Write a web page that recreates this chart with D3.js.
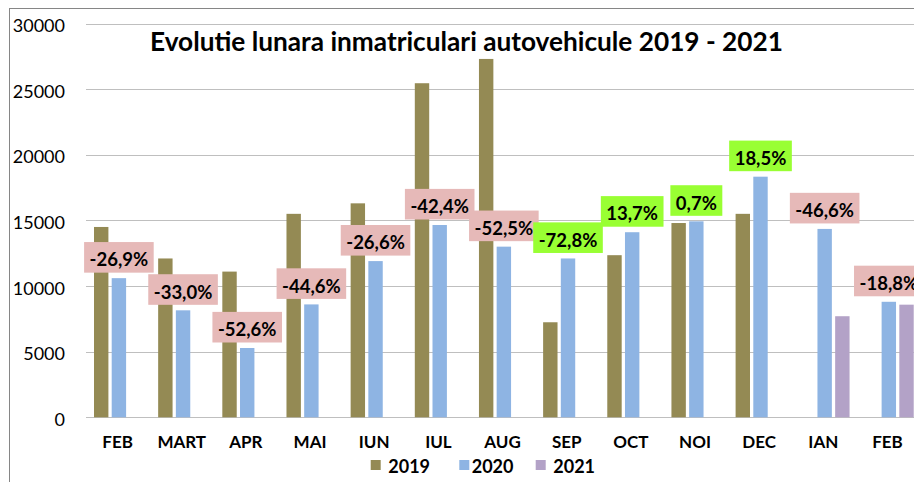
<!DOCTYPE html>
<html>
<head>
<meta charset="utf-8">
<script src="https://cdn.jsdelivr.net/npm/d3@7/dist/d3.min.js"></script>
<style>
  html, body { margin: 0; padding: 0; background: #fff; }
  svg { display: block; }
  text { font-family: Lato, "Open Sans", sans-serif; fill: #000; }
</style>
</head>
<body>
<svg id="chart" width="914" height="482"></svg>
<script>
const title = "Evolutie lunara inmatriculari autovehicule 2019 - 2021";
const categories = ["FEB", "MART", "APR", "MAI", "IUN", "IUL", "AUG", "SEP", "OCT", "NOI", "DEC", "IAN", "FEB"];
const seriesNames = ["2019", "2020", "2021"];
const values2019 = [14500, 12100, 11100, 15500, 16300, 25450, 27300, 7240, 12350, 14800, 15500, null, null];
const values2020 = [10600, 8150, 5280, 8600, 11900, 14650, 13000, 12100, 14100, 14930, 18330, 14350, 8800];
const values2021 = [null, null, null, null, null, null, null, null, null, null, null, 7700, 8580];
const changeLabels = ["-26,9%", "-33,0%", "-52,6%", "-44,6%", "-26,6%", "-42,4%", "-52,5%", "-72,8%", "13,7%", "0,7%", "18,5%", "-46,6%", "-18,8%"];
const changeKind = ["down", "down", "down", "down", "down", "down", "down", "up", "up", "up", "up", "down", "down"];
const yTicks = [0, 5000, 10000, 15000, 20000, 25000, 30000];

const colors = { "2019": "#948A54", "2020": "#8EB4E3", "2021": "#B3A2C7" };
const labelFill = { down: "#E6B9B8", up: "#99FF33" };

const svg = d3.select("#chart");

// outer chart border
svg.append("rect").attr("x", 9.5).attr("y", 8.5).attr("width", 1000).attr("height", 1000)
  .attr("fill", "none").attr("stroke", "#868686").attr("stroke-width", 1);

const y = d3.scaleLinear().domain([0, 30000]).range([417.3, 23.5]);
const x = d3.scaleBand().domain(d3.range(categories.length)).range([86, 86 + 13 * 64.16]).padding(0);
const x1 = d3.scaleBand().domain(seriesNames).range([8, 57.8]).paddingInner(0.186).paddingOuter(0);

// gridlines
svg.append("g").selectAll("line").data(yTicks).join("line")
  .attr("x1", 86).attr("x2", 914)
  .attr("y1", d => Math.round(y(d)) + 0.5).attr("y2", d => Math.round(y(d)) + 0.5)
  .attr("stroke", "#BFBFBF").attr("stroke-width", 1);

// y tick labels
svg.append("g").selectAll("text").data(yTicks).join("text")
  .attr("x", 65).attr("y", d => y(d) + 1.5)
  .attr("text-anchor", "end").attr("dominant-baseline", "central")
  .attr("font-size", 18)
  .text(d => d);

// bars
const seriesData = [values2019, values2020, values2021];
seriesNames.forEach((s, si) => {
  const data = seriesData[si].map((v, i) => ({ i, v })).filter(d => d.v != null);
  svg.append("g").selectAll("rect").data(data).join("rect")
    .attr("x", d => x(d.i) + x1(s))
    .attr("width", x1.bandwidth())
    .attr("y", d => y(d.v))
    .attr("height", d => y(0) - y(d.v))
    .attr("fill", colors[s]);
});

// category labels
svg.append("g").selectAll("text").data(categories).join("text")
  .attr("x", (d, i) => x(i) + x.bandwidth() / 2 - 0.5)
  .attr("y", 448)
  .attr("text-anchor", "middle")
  .attr("font-size", 17).attr("font-weight", "bold")
  .text(d => d);

// change labels (boxes above 2020 bars)
const lg = svg.append("g");
changeLabels.forEach((t, i) => {
  const cx = x(i) + x1("2020") + x1.bandwidth() / 2;
  const bottom = y(values2020[i]) - 5.5;
  const g = lg.append("g");
  const rect = g.append("rect").attr("fill", labelFill[changeKind[i]]);
  const txt = g.append("text")
    .attr("x", cx).attr("y", bottom - 15.3 + 2)
    .attr("text-anchor", "middle").attr("dominant-baseline", "central")
    .attr("font-size", 18.5).attr("font-weight", "bold")
    .text(t);
  const w = txt.node().getComputedTextLength() + 11;
  rect.attr("x", cx - w / 2).attr("y", bottom - 30.6).attr("width", w).attr("height", 30.6);
});

// title
const tt = svg.append("text")
  .attr("x", 466.5).attr("y", 51)
  .attr("text-anchor", "middle")
  .attr("font-size", 24).attr("font-weight", "bold")
  .text(title);
const tw = tt.node().getComputedTextLength();
tt.attr("font-size", 24 * 633 / tw);

// legend
const legendItems = [
  { s: "2019", sq: 370.7, tx: 388.3 },
  { s: "2020", sq: 459.3, tx: 471.7 },
  { s: "2021", sq: 535.7, tx: 553.3 }
];
const leg = svg.append("g");
legendItems.forEach(d => {
  leg.append("rect").attr("x", d.sq).attr("y", 460).attr("width", 10).attr("height", 10).attr("fill", colors[d.s]);
  leg.append("text").attr("x", d.tx).attr("y", 465.5)
    .attr("dominant-baseline", "central")
    .attr("font-size", 18).attr("font-weight", "bold")
    .text(d.s);
});
</script>
</body>
</html>
